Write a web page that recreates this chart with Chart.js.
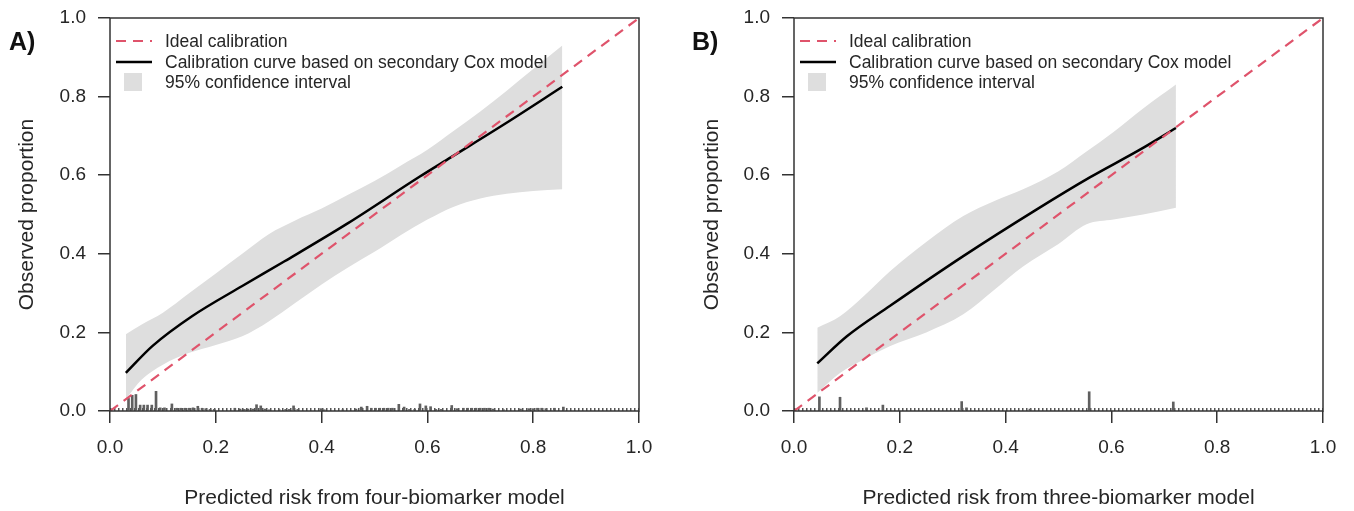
<!DOCTYPE html>
<html>
<head>
<meta charset="utf-8">
<script src="https://cdn.jsdelivr.net/npm/chart.js@4.4.1/dist/chart.umd.min.js"></script>
<style>
  body { margin: 0; background: #fff; width: 1354px; height: 511px; overflow: hidden; position: relative;
         font-family: "Liberation Sans", Arial, sans-serif; }
  canvas { position: absolute; top: 0; }
  #chartA { left: 0; }
  #chartB { left: 677px; }
  .tag { position: absolute; top: 27px; font-weight: bold; font-size: 25px; color: #111; }
</style>
</head>
<body>
<canvas id="chartA" width="677" height="511"></canvas>
<canvas id="chartB" width="677" height="511"></canvas>
<div class="tag" style="left:9px">A)</div>
<div class="tag" style="left:692px">B)</div>
<script>
// Axis ticks
const tickValues = [0, 0.2, 0.4, 0.6, 0.8, 1.0];
const ideal = [{ x: 0, y: 0 }, { x: 1, y: 1 }];

// Panel A - four-biomarker model
const curveAx = [0.03, 0.08, 0.155, 0.25, 0.33, 0.45, 0.585, 0.645, 0.755, 0.855];
const curveAy = [0.097, 0.165, 0.241, 0.318, 0.381, 0.478, 0.596, 0.646, 0.738, 0.825];
const bandAx = [0.03, 0.06, 0.1, 0.15, 0.2, 0.25, 0.3, 0.35, 0.4, 0.45, 0.5, 0.55, 0.6, 0.65, 0.7, 0.75, 0.8, 0.855];
const bandAUpper = [0.195, 0.22, 0.25, 0.30, 0.35, 0.40, 0.45, 0.485, 0.515, 0.55, 0.585, 0.625, 0.665, 0.713, 0.762, 0.815, 0.87, 0.93];
const bandALower = [0.03, 0.08, 0.118, 0.148, 0.168, 0.19, 0.228, 0.275, 0.322, 0.365, 0.405, 0.448, 0.487, 0.52, 0.541, 0.553, 0.56, 0.564];
const rugAx = [0.035, 0.042, 0.049, 0.057, 0.064, 0.071, 0.079, 0.087, 0.095, 0.103, 0.117, 0.126, 0.134, 0.142, 0.150,
  0.157, 0.166, 0.174, 0.181, 0.189, 0.197, 0.236, 0.246, 0.254, 0.261, 0.270, 0.277, 0.285, 0.293, 0.301, 0.320,
  0.332, 0.339, 0.347, 0.355, 0.399, 0.405, 0.440, 0.465, 0.475, 0.486, 0.494, 0.502, 0.510, 0.518, 0.526, 0.534,
  0.546, 0.556, 0.566, 0.576, 0.586, 0.597, 0.606, 0.616, 0.626, 0.646, 0.656, 0.668, 0.676, 0.684, 0.692, 0.700,
  0.708, 0.716, 0.724, 0.744, 0.776, 0.792, 0.800, 0.808, 0.816, 0.824, 0.840, 0.857];
const rugAh = [0.032, 0.040, 0.042, 0.015, 0.015, 0.015, 0.015, 0.050, 0.008, 0.008, 0.018, 0.007, 0.007, 0.007, 0.007,
  0.008, 0.012, 0.007, 0.006, 0.004, 0.004, 0.007, 0.005, 0.004, 0.005, 0.005, 0.016, 0.013, 0.005, 0.003, 0.003,
  0.004, 0.004, 0.013, 0.004, 0.006, 0.003, 0.003, 0.005, 0.010, 0.012, 0.007, 0.007, 0.007, 0.007, 0.007, 0.007,
  0.017, 0.010, 0.004, 0.004, 0.018, 0.013, 0.011, 0.004, 0.004, 0.014, 0.006, 0.007, 0.007, 0.007, 0.007, 0.007,
  0.007, 0.007, 0.005, 0.003, 0.005, 0.006, 0.006, 0.007, 0.007, 0.006, 0.007, 0.010];

// Panel B - three-biomarker model
const curveBx = [0.044, 0.1, 0.181, 0.32, 0.459, 0.56, 0.654, 0.722];
const curveBy = [0.121, 0.19, 0.267, 0.394, 0.513, 0.595, 0.665, 0.72];
const bandBx = [0.044, 0.087, 0.13, 0.181, 0.25, 0.32, 0.38, 0.433, 0.5, 0.553, 0.604, 0.66, 0.722];
const bandBUpper = [0.212, 0.241, 0.29, 0.355, 0.43, 0.496, 0.535, 0.564, 0.61, 0.66, 0.71, 0.77, 0.831];
const bandBLower = [0.046, 0.097, 0.13, 0.165, 0.2, 0.246, 0.31, 0.368, 0.425, 0.475, 0.487, 0.50, 0.517];
const rugBx = [0.048, 0.087, 0.137, 0.168, 0.317, 0.326, 0.446, 0.558, 0.717];
const rugBh = [0.036, 0.035, 0.008, 0.015, 0.024, 0.008, 0.005, 0.049, 0.023];

const legendLabels = ['Ideal calibration', 'Calibration curve based on secondary Cox model', '95% confidence interval'];

const RED = '#DF536B';
const BAND = '#DEDEDE';
const INK = '#262626';
const FONT = '"Liberation Sans", Arial, sans-serif';

const pts = (xs, ys) => xs.map((x, i) => ({ x, y: ys[i] }));

// Legend inside the plot, top-left
const insetLegend = {
  id: 'insetLegend',
  afterDraw(chart) {
    const { ctx, chartArea: a } = chart;
    ctx.save();
    const tx = a.left + 55;
    const rows = [a.top + 23, a.top + 44, a.top + 64];
    ctx.lineWidth = 2.2;
    ctx.strokeStyle = RED;
    ctx.setLineDash([10, 7]);
    ctx.beginPath(); ctx.moveTo(a.left + 6, rows[0]); ctx.lineTo(a.left + 42, rows[0]); ctx.stroke();
    ctx.setLineDash([]);
    ctx.strokeStyle = '#000';
    ctx.lineWidth = 2.5;
    ctx.beginPath(); ctx.moveTo(a.left + 6, rows[1]); ctx.lineTo(a.left + 42, rows[1]); ctx.stroke();
    ctx.fillStyle = BAND;
    ctx.fillRect(a.left + 14, rows[2] - 9, 18, 18);
    ctx.fillStyle = INK;
    ctx.font = '17.5px ' + FONT;
    ctx.textBaseline = 'middle';
    legendLabels.forEach((t, i) => ctx.fillText(t, tx, rows[i] + 1));
    ctx.restore();
  }
};

// Box around the plot region
const plotBox = {
  id: 'plotBox',
  afterDraw(chart) {
    const { ctx, chartArea: a } = chart;
    ctx.save();
    ctx.strokeStyle = '#333';
    ctx.lineWidth = 1.5;
    ctx.strokeRect(a.left, a.top, a.right - a.left, a.bottom - a.top);
    ctx.restore();
  }
};

function axis(title, size) {
  return {
    type: 'linear', min: 0, max: 1, offset: false,
    afterBuildTicks: s => { s.ticks = tickValues.map(v => ({ value: v })); },
    afterFit: s => {
      size(s);
      s.paddingTop = 0; s.paddingBottom = 0; s.paddingLeft = 0; s.paddingRight = 0;
    },
    border: { display: false },
    grid: { offset: false, drawOnChartArea: false, drawTicks: true, tickLength: 12, tickColor: '#333', lineWidth: 1.5 },
    ticks: { color: INK, font: { family: FONT, size: 19 }, callback: v => v.toFixed(1) },
    title: { display: true, text: title, color: INK, font: { family: FONT, size: 21 } }
  };
}

function makeChart(id, o) {
  const x = axis(o.xTitle, s => { s.height = 100; });
  x.ticks.padding = 13;
  x.title.padding = { top: 0, bottom: 0 };
  const y = axis('Observed proportion', s => { s.width = o.yWidth; });
  y.ticks.padding = 12;
  y.title.padding = { top: o.yTitlePad, bottom: 0 };

  return new Chart(document.getElementById(id), {
    type: 'line',
    data: {
      datasets: [
        { data: ideal, borderColor: RED, borderWidth: 2.2, borderDash: [10, 7], pointRadius: 0, order: 0 },
        { data: pts(o.cx, o.cy), borderColor: '#000', borderWidth: 2.5, pointRadius: 0,
          cubicInterpolationMode: 'monotone', order: 1 },
        { type: 'bar', data: pts(o.rx, o.rh), backgroundColor: '#5f5f5f', barThickness: 2, grouped: false, order: 2 },
        { data: [{ x: 0, y: 0.004 }, { x: 1, y: 0.004 }], borderColor: '#555', borderWidth: 3,
          borderDash: [1.5, 2.5], pointRadius: 0, order: 3 },
        { data: pts(o.bx, o.bu), borderWidth: 0, pointRadius: 0, backgroundColor: BAND,
          cubicInterpolationMode: 'monotone', fill: '+1', order: 4 },
        { data: pts(o.bx, o.bl), borderWidth: 0, pointRadius: 0, backgroundColor: BAND,
          cubicInterpolationMode: 'monotone', fill: false, order: 5 }
      ]
    },
    options: {
      responsive: false,
      animation: false,
      devicePixelRatio: 1,
      layout: { padding: { left: 0, right: o.rightPad, top: 18, bottom: 0 } },
      plugins: { legend: { display: false }, tooltip: { enabled: false } },
      scales: { x, y }
    },
    plugins: [insetLegend, plotBox]
  });
}

makeChart('chartA', {
  xTitle: 'Predicted risk from four-biomarker model', yWidth: 110, rightPad: 38, yTitlePad: 15,
  cx: curveAx, cy: curveAy, bx: bandAx, bu: bandAUpper, bl: bandALower, rx: rugAx, rh: rugAh
});
makeChart('chartB', {
  xTitle: 'Predicted risk from three-biomarker model', yWidth: 117, rightPad: 31, yTitlePad: 23,
  cx: curveBx, cy: curveBy, bx: bandBx, bu: bandBUpper, bl: bandBLower, rx: rugBx, rh: rugBh
});
</script>
</body>
</html>
